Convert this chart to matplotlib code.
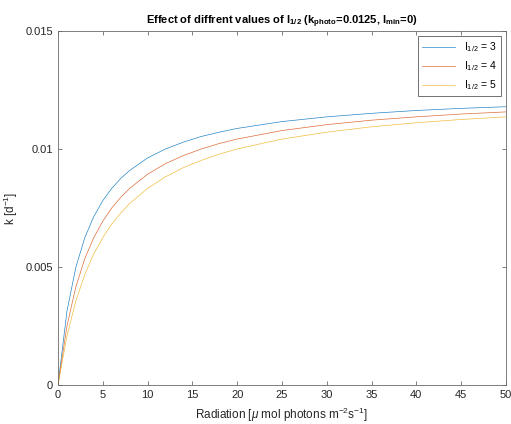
import matplotlib
matplotlib.use('Agg')
import matplotlib.pyplot as plt

plt.rcParams['font.family'] = ['Liberation Sans', 'DejaVu Sans']
plt.rcParams['mathtext.fontset'] = 'custom'
plt.rcParams['mathtext.rm'] = 'Liberation Sans'
plt.rcParams['mathtext.it'] = 'Liberation Sans:italic'
plt.rcParams['mathtext.bf'] = 'Liberation Sans:bold'

# radiation values (x) and k
radiation = [0, 1, 2, 3, 4, 5, 6, 7, 8, 10, 12, 14, 16, 18, 20,
             25, 30, 35, 40, 45, 50]
k_half3 = [0, 0.003125, 0.00500, 0.00625, 0.00714, 0.00781, 0.00833,
           0.00875, 0.00909, 0.00962, 0.01000, 0.01029, 0.01053, 0.01071,
           0.01087, 0.01116, 0.01136, 0.01151, 0.01163, 0.01172, 0.01179]
k_half4 = [0, 0.00250, 0.00417, 0.00536, 0.00625, 0.00694, 0.00750,
           0.00795, 0.00833, 0.00893, 0.00938, 0.00972, 0.01000, 0.01023,
           0.01042, 0.01078, 0.01103, 0.01122, 0.01136, 0.01148, 0.01157]
k_half5 = [0, 0.00208, 0.00357, 0.00469, 0.00556, 0.00625, 0.00682,
           0.00729, 0.00769, 0.00833, 0.00882, 0.00921, 0.00952, 0.00978,
           0.01000, 0.01042, 0.01071, 0.01094, 0.01111, 0.01125, 0.01136]
labels = [r'$\mathregular{I_{1/2}}$ = 3', r'$\mathregular{I_{1/2}}$ = 4',
          r'$\mathregular{I_{1/2}}$ = 5']
colors = ['#0072BD', '#D95319', '#EDB120']
yticks = [0, 0.005, 0.01, 0.015]
ytick_labels = ['0', '0.005', '0.01', '0.015']

fig = plt.figure(figsize=(5.11, 4.24), dpi=100)
ax = fig.add_axes([0.1135, 0.092, 0.8765, 0.835])

for ys, lab, c in zip([k_half3, k_half4, k_half5], labels, colors):
    ax.plot(radiation, ys, color=c, lw=0.5, alpha=0.85, label=lab)

ax.set_xlim(0, 50)
ax.set_ylim(0, 0.015)
ax.set_xticks(range(0, 51, 5))
ax.set_yticks(yticks)
ax.set_yticklabels(ytick_labels)

edge = '#6a6a6a'
for s in ax.spines.values():
    s.set_color(edge)
    s.set_linewidth(0.6)
ax.tick_params(direction='in', length=3, width=0.6, color=edge,
               labelsize=8, labelcolor='#262626', top=True, right=True)

ax.set_title(r'Effect of diffrent values of $\mathbf{I_{1/2}}$ '
             r'($\mathbf{k_{photo}}$=0.0125, $\mathbf{I_{min}}$=0)',
             fontsize=8, fontweight='bold', pad=5)
ax.set_xlabel(r'Radiation [$\mu$ mol photons m$^{-2}$s$^{-1}$]',
              fontsize=8.5, color='#262626')
ax.set_ylabel(r'k [d$^{-1}$]', fontsize=8.5, color='#262626')

leg = ax.legend(loc='upper right', fontsize=7.5, fancybox=False,
                framealpha=1, edgecolor='#5a5a5a', borderpad=0.4,
                handlelength=3.2, labelspacing=0.5)
leg.get_frame().set_linewidth(0.6)

fig.savefig('out.png', dpi=100)
